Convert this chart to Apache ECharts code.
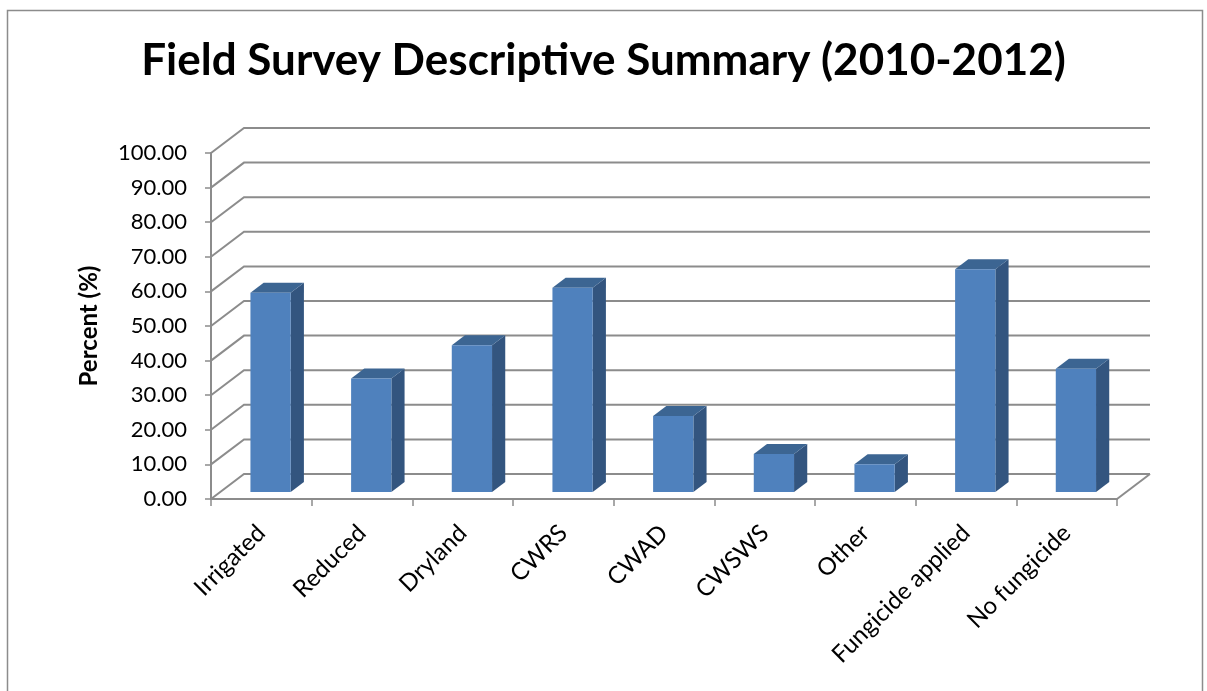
<!DOCTYPE html>
<html>
<head>
<meta charset="utf-8">
<script src="https://cdn.jsdelivr.net/npm/echarts@6/dist/echarts.min.js"></script>
<style>
  html, body { margin: 0; padding: 0; background: #fff; }
  #chart { width: 1207px; height: 691px; }
</style>
</head>
<body>
<div id="chart"></div>
<script>
// Survey categories and the share of fields (%) in each
const categories = ['Irrigated', 'Reduced', 'Dryland', 'CWRS', 'CWAD', 'CWSWS', 'Other', 'Fungicide applied', 'No fungicide'];
const percentValues = [57.6, 32.8, 42.4, 59.0, 22.0, 11.0, 8.0, 64.4, 35.6];
const yTicks = [0, 10, 20, 30, 40, 50, 60, 70, 80, 90, 100];

// Oblique depth projection used for the pseudo-3D floor, walls and bars
const DEPTH_DX = 33;
const DEPTH_DY = -25;
const BAR_Z0 = 0.28;
const BAR_Z1 = 0.68;
const BAR_WIDTH = 0.40;
const FONT = 'Lato, "Open Sans", sans-serif';
const GRID_COLOR = '#8c8c8c';

const chart = echarts.init(document.getElementById('chart'));

function wallItem(params, api) {
  const cs = params.coordSys;
  const v = api.value(0);
  const y = api.coord([0, v])[1];
  const x0 = cs.x, x1 = cs.x + cs.width;
  const points = [[x0, y], [x0 + DEPTH_DX, y + DEPTH_DY], [x1 + DEPTH_DX, y + DEPTH_DY]];
  const children = [{
    type: 'polyline',
    shape: { points: points },
    style: { stroke: GRID_COLOR, lineWidth: 2, fill: null }
  }];
  if (v === 0) {
    // right edge of the floor
    children.push({
      type: 'line',
      shape: { x1: x1, y1: y, x2: x1 + DEPTH_DX, y2: y + DEPTH_DY },
      style: { stroke: GRID_COLOR, lineWidth: 2 }
    });
  }
  return { type: 'group', children: children };
}

function barItem(params, api) {
  const idx = api.value(0);
  const val = api.value(1);
  const top = api.coord([idx, val]);
  const base = api.coord([idx, 0]);
  const band = api.size([1, 0])[0];
  const half = band * BAR_WIDTH / 2;
  const ox0 = BAR_Z0 * DEPTH_DX, oy0 = BAR_Z0 * DEPTH_DY;
  const ox1 = BAR_Z1 * DEPTH_DX, oy1 = BAR_Z1 * DEPTH_DY;
  const xl = top[0] - half, xr = top[0] + half;
  const yt = top[1], yb = base[1];
  return {
    type: 'group',
    children: [
      {
        type: 'polygon',
        shape: { points: [[xr + ox0, yt + oy0], [xr + ox1, yt + oy1], [xr + ox1, yb + oy1], [xr + ox0, yb + oy0]] },
        style: { fill: '#33557f' }
      },
      {
        type: 'polygon',
        shape: { points: [[xl + ox0, yt + oy0], [xr + ox0, yt + oy0], [xr + ox1, yt + oy1], [xl + ox1, yt + oy1]] },
        style: { fill: '#3c6592' }
      },
      {
        type: 'rect',
        shape: { x: xl + ox0, y: yt + oy0, width: xr - xl, height: yb - yt },
        style: { fill: '#4f81bd' }
      }
    ]
  };
}

chart.setOption({
  animation: false,
  backgroundColor: '#fff',
  title: {
    text: 'Field Survey Descriptive Summary (2010-2012)',
    left: 'center',
    top: 34,
    textStyle: { fontFamily: FONT, fontWeight: 'bold', fontSize: 44, color: '#000' }
  },
  graphic: [{
    type: 'rect',
    left: 5, top: 8,
    shape: { width: 1195, height: 700 },
    style: { fill: 'none', stroke: '#8c8c8c', lineWidth: 1.5 },
    z: -10
  }],
  grid: { left: 211, right: 90, top: 153, bottom: 192 },
  xAxis: {
    type: 'category',
    data: categories,
    axisLine: { show: true, lineStyle: { color: GRID_COLOR, width: 2 } },
    axisTick: { show: true, length: 7, lineStyle: { color: GRID_COLOR, width: 1.5 } },
    axisLabel: { rotate: 45, margin: 30, fontFamily: FONT, fontSize: 24, color: '#000', interval: 0 },
    splitLine: { show: false }
  },
  yAxis: {
    type: 'value',
    min: 0, max: 100, interval: 10,
    name: 'Percent (%)',
    nameLocation: 'middle',
    nameGap: 110,
    nameTextStyle: { fontFamily: FONT, fontWeight: 'bold', fontSize: 24, color: '#000' },
    axisLine: { show: true, lineStyle: { color: GRID_COLOR, width: 2 } },
    axisTick: { show: true, length: 6, lineStyle: { color: GRID_COLOR, width: 1.5 } },
    axisLabel: { margin: 24, fontFamily: FONT, fontSize: 22, color: '#000', formatter: v => v.toFixed(2) },
    splitLine: { show: false }
  },
  series: [
    {
      type: 'custom',
      name: 'walls',
      renderItem: wallItem,
      data: yTicks.map(v => [v]),
      encode: { y: 0 },
      silent: true,
      z: 1
    },
    {
      type: 'custom',
      name: 'Percent',
      renderItem: barItem,
      data: percentValues.map((v, i) => [i, v]),
      encode: { x: 0, y: 1 },
      z: 2
    }
  ]
});
</script>
</body>
</html>
